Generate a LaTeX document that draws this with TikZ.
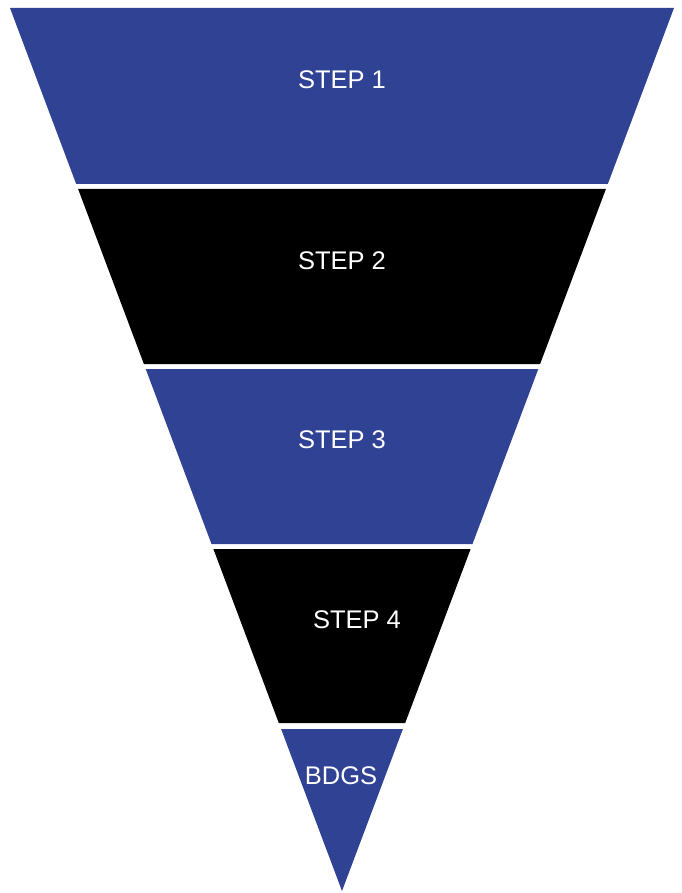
\documentclass[tikz,border=0pt]{standalone}
\usepackage{fontspec}
\usepackage{xcolor}
\setmainfont{Liberation Sans}
\definecolor{funnelblue}{RGB}{48,66,148}

\begin{document}
\begin{tikzpicture}[x=1pt,y=-1pt,
    steplabel/.style={text=white,font=\fontsize{25.5}{30}\selectfont}]
        \useasboundingbox (0,0) rectangle (681,893);
        % Draw the five bands of the funnel
        \fill[funnelblue] (10,8) -- (674,8) -- (607.8,184) -- (76.2,184) -- cycle;
        \fill[black] (78.1,189) -- (605.9,189) -- (540.1,364) -- (143.9,364) -- cycle;
        \fill[funnelblue] (145.7,369) -- (538.3,369) -- (472.5,544) -- (211.5,544) -- cycle;
        \fill[black] (213.4,549) -- (470.6,549) -- (405.2,723) -- (278.8,723) -- cycle;
        \fill[funnelblue] (281.1,729) -- (402.9,729) -- (342,891) -- cycle;
        % Labels
        \node[steplabel] (step1) at (342,80) {STEP 1};
        \node[steplabel] (step2) at (342,261) {STEP 2};
        \node[steplabel] (step3) at (342,440) {STEP 3};
        \node[steplabel] (step4) at (357,620) {STEP 4};
        \node[steplabel] (bdgs) at (341,776) {BDGS};
    \end{tikzpicture}
\end{document}
